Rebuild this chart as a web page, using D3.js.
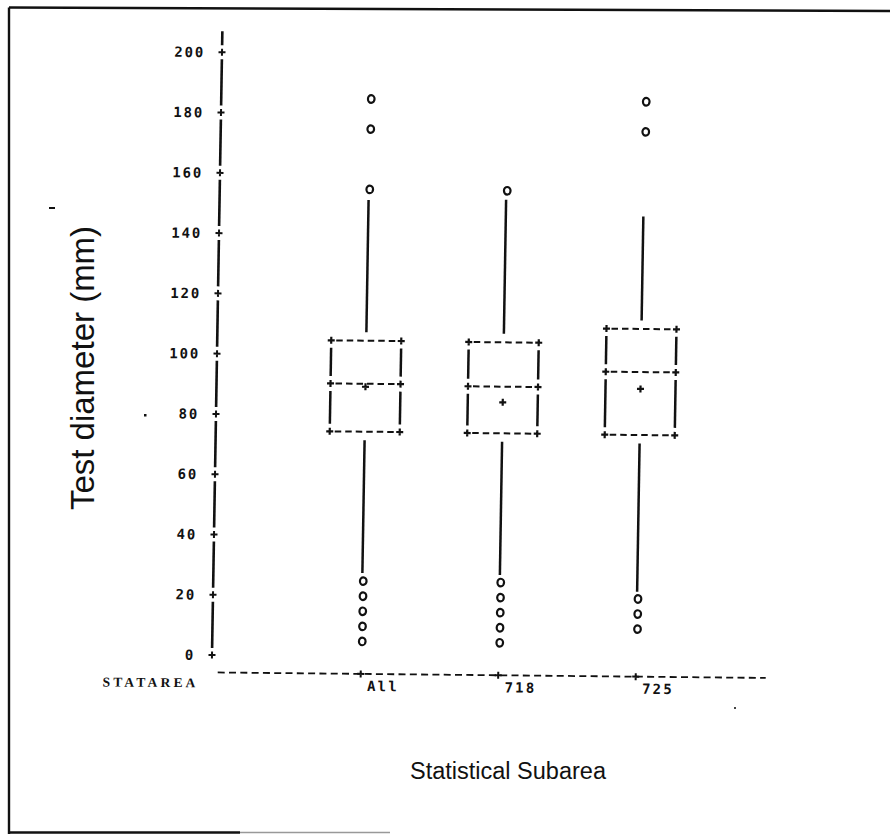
<!DOCTYPE html>
<html>
<head>
<meta charset="utf-8">
<script src="https://cdn.jsdelivr.net/npm/d3@7"></script>
<style>
  html, body { margin: 0; padding: 0; background: #fff; }
  svg { display: block; }
</style>
</head>
<body>
<svg id="chart" width="890" height="834"></svg>
<script>
// Box-plot summary of test diameter by statistical subarea
const categories = ["All", "718", "725"];
const q1 = [74.6, 74.5, 74.4];
const median = [90.5, 90.0, 95.3];
const q3 = [104.8, 104.7, 109.6];
const mean = [89.5, 84.8, 89.7];
const whiskerLow = [27.7, 27.5, 22.4];
const whiskerHigh = [151.5, 152.0, 146.9];
const outliersHigh = [[185, 175, 155], [155], [185, 175]];
const outliersLow = [[25, 20, 15, 10, 5], [25, 20, 15, 10, 5], [20, 15, 10]];
const yTickValues = [0, 20, 40, 60, 80, 100, 120, 140, 160, 180, 200];
const axisTop = 207;

const svg = d3.select("#chart");
const ink = "#111";

// page frame
const frame = svg.append("g").attr("stroke", ink).attr("stroke-width", 2.4).attr("fill", "none");
frame.append("line").attr("x1", 9).attr("y1", 7.5).attr("x2", 890).attr("y2", 11);
frame.append("line").attr("x1", 9).attr("y1", 7.5).attr("x2", 9).attr("y2", 834);
frame.append("line").attr("x1", 9).attr("y1", 832.5).attr("x2", 240).attr("y2", 832.5);
frame.append("line").attr("x1", 240).attr("y1", 832.5).attr("x2", 390).attr("y2", 832.5)
  .attr("stroke", "#999").attr("stroke-width", 1.5);

// plot area, slightly sheared like a printed page
const px = 212, py = 655, kx = -0.0166, ky = 0.01;
const plot = svg.append("g")
  .attr("transform", `matrix(1,${ky},${kx},1,${-kx * py},${-ky * px})`);

const y = d3.scaleLinear().domain([0, 200]).range([655, 52.3]);
const x = d3.scalePoint().domain(categories).range([361, 636]);
const baseY = 672.4;
const halfW = 35;

function plus(g, cx, cy, s = 3.5, w = 2) {
  g.append("path")
    .attr("d", `M${cx - s},${cy}H${cx + s}M${cx},${cy - s}V${cy + s}`)
    .attr("stroke", ink).attr("stroke-width", w).attr("fill", "none");
}

const monoFont = "'DejaVu Sans Mono', 'Liberation Mono', monospace";

// vertical axis: broken line with + ticks
const yAxis = plot.append("g");
const segs = [];
for (let i = 0; i < yTickValues.length - 1; i++) {
  segs.push([y(yTickValues[i]) - 7, y(yTickValues[i + 1]) + 7]);
}
segs.push([y(200) - 7, y(axisTop)]);
yAxis.selectAll("line.seg").data(segs).join("line")
  .attr("class", "seg")
  .attr("x1", px).attr("x2", px)
  .attr("y1", d => d[0]).attr("y2", d => d[1])
  .attr("stroke", ink).attr("stroke-width", 2.6);
yTickValues.forEach(v => plus(yAxis, px, y(v)));
yAxis.selectAll("text").data(yTickValues).join("text")
  .attr("x", px - 17).attr("y", d => y(d) + 5)
  .attr("text-anchor", "end")
  .attr("font-family", monoFont).attr("font-weight", "bold")
  .attr("font-size", 14).attr("letter-spacing", 1.8)
  .attr("fill", ink)
  .text(d => d);

// horizontal axis: dashed baseline with + ticks
const xAxis = plot.append("g");
xAxis.append("line")
  .attr("x1", 218).attr("x2", 766).attr("y1", baseY).attr("y2", baseY)
  .attr("stroke", ink).attr("stroke-width", 1.8).attr("stroke-dasharray", "7,4.3");
categories.forEach(c => plus(xAxis, x(c), baseY));
xAxis.selectAll("text.cat").data(categories).join("text")
  .attr("class", "cat")
  .attr("x", d => x(d) + 6.5).attr("y", 689.5)
  .attr("font-family", monoFont).attr("font-weight", "bold")
  .attr("font-size", 14).attr("letter-spacing", 2.2)
  .attr("fill", ink)
  .text(d => d);
xAxis.append("text")
  .attr("x", 103).attr("y", 687.5)
  .attr("font-family", "'Liberation Serif', 'DejaVu Serif', serif").attr("font-weight", "bold")
  .attr("font-size", 13.5).attr("letter-spacing", 3.2)
  .attr("fill", ink)
  .text("STATAREA");

// boxes
const gap = 7.5;
categories.forEach((c, i) => {
  const g = plot.append("g");
  const cx = x(c), L = cx - halfW, R = cx + halfW;
  const yQ1 = y(q1[i]), yMed = y(median[i]), yQ3 = y(q3[i]);

  // dashed horizontal edges: Q3, median, Q1
  [yQ3, yMed, yQ1].forEach(yy => {
    g.append("line")
      .attr("x1", L + 5).attr("x2", R - 5).attr("y1", yy).attr("y2", yy)
      .attr("stroke", ink).attr("stroke-width", 2).attr("stroke-dasharray", "6.5,4");
    plus(g, L, yy, 3.5, 2.2);
    plus(g, R, yy, 3.5, 2.2);
  });

  // solid vertical sides broken at the median
  [L, R].forEach(xx => {
    [[yQ3 + gap, yMed - gap], [yMed + gap, yQ1 - gap]].forEach(([a, b]) => {
      g.append("line")
        .attr("x1", xx).attr("x2", xx).attr("y1", a).attr("y2", b)
        .attr("stroke", ink).attr("stroke-width", 2.5);
    });
  });

  // whiskers
  g.append("line")
    .attr("x1", cx).attr("x2", cx).attr("y1", yQ3 - 8.5).attr("y2", y(whiskerHigh[i]))
    .attr("stroke", ink).attr("stroke-width", 2.5);
  g.append("line")
    .attr("x1", cx).attr("x2", cx).attr("y1", yQ1 + 8.5).attr("y2", y(whiskerLow[i]))
    .attr("stroke", ink).attr("stroke-width", 2.5);

  // mean marker
  plus(g, cx, y(mean[i]), 3.5, 2.2);

  // outliers
  g.selectAll("ellipse").data(outliersHigh[i].concat(outliersLow[i])).join("ellipse")
    .attr("cx", cx + 1).attr("cy", d => y(d))
    .attr("rx", 3.3).attr("ry", 3.8)
    .attr("fill", "none").attr("stroke", ink).attr("stroke-width", 2.2);
});

// axis titles
svg.append("text")
  .attr("transform", "translate(94,368) rotate(-90)")
  .attr("text-anchor", "middle")
  .attr("font-family", "'Liberation Sans', Arial, sans-serif")
  .attr("font-size", 33)
  .attr("fill", ink)
  .text("Test diameter (mm)");

svg.append("text")
  .attr("x", 508).attr("y", 779)
  .attr("text-anchor", "middle")
  .attr("font-family", "'Liberation Sans', Arial, sans-serif")
  .attr("font-size", 23.5)
  .attr("fill", ink)
  .text("Statistical Subarea");

// stray print specks
svg.append("rect").attr("x", 49).attr("y", 207).attr("width", 6).attr("height", 2).attr("fill", ink);
svg.append("rect").attr("x", 144).attr("y", 414).attr("width", 2.5).attr("height", 2.5).attr("fill", ink);
svg.append("rect").attr("x", 734).attr("y", 707).attr("width", 2).attr("height", 2).attr("fill", "#444");
</script>
</body>
</html>
